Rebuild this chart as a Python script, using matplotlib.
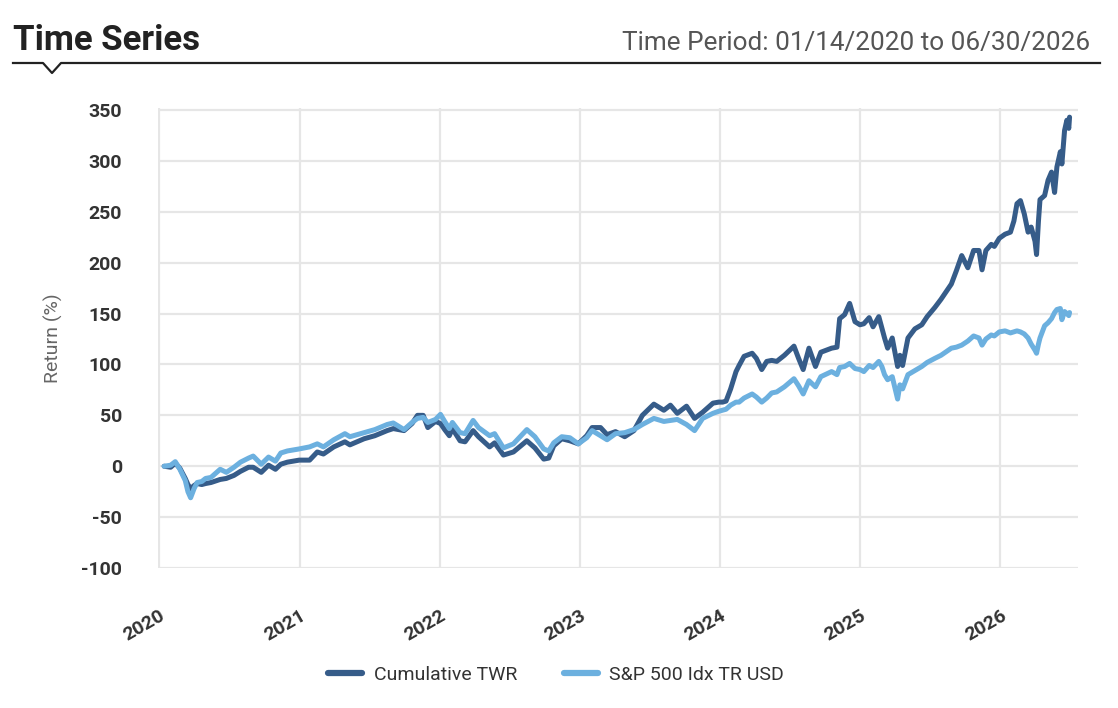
import matplotlib
matplotlib.use("Agg")
import matplotlib.pyplot as plt
import matplotlib.dates as mdates
from matplotlib.lines import Line2D
import pandas as pd

# values (percent return since 01/14/2020)
dates = [
    "2020-01-14", "2020-01-31", "2020-02-12", "2020-02-24", "2020-03-09", "2020-03-16",
    "2020-03-23", "2020-04-01", "2020-04-09", "2020-04-21", "2020-05-01", "2020-05-15",
    "2020-06-08", "2020-06-24", "2020-07-14", "2020-07-31", "2020-08-21", "2020-09-02",
    "2020-09-23", "2020-10-12", "2020-10-30", "2020-11-13", "2020-11-30", "2020-12-15",
    "2020-12-31",
    "2021-01-27", "2021-02-16", "2021-03-04", "2021-03-31", "2021-04-29", "2021-05-12",
    "2021-06-18", "2021-07-16", "2021-08-17", "2021-09-02", "2021-09-30", "2021-10-21",
    "2021-11-04", "2021-11-19", "2021-12-01", "2021-12-21",
    "2022-01-03", "2022-01-14", "2022-01-26", "2022-02-03", "2022-02-23", "2022-03-08",
    "2022-03-29", "2022-04-12", "2022-05-11", "2022-05-24", "2022-06-16", "2022-07-12",
    "2022-08-16", "2022-09-06", "2022-09-29", "2022-10-12", "2022-10-25", "2022-11-15",
    "2022-12-06", "2022-12-28",
    "2023-01-19", "2023-02-02", "2023-02-24", "2023-03-13", "2023-04-04", "2023-04-28",
    "2023-05-22", "2023-06-13", "2023-07-13", "2023-08-08", "2023-08-25", "2023-09-12",
    "2023-10-06", "2023-10-27", "2023-11-17", "2023-12-14", "2023-12-29",
    "2024-01-08", "2024-01-17", "2024-01-29", "2024-02-12", "2024-02-20", "2024-03-04",
    "2024-03-25", "2024-04-05", "2024-04-19", "2024-05-02", "2024-05-15", "2024-05-28",
    "2024-06-17", "2024-07-12", "2024-07-24", "2024-08-05", "2024-08-20", "2024-09-06",
    "2024-09-20", "2024-10-18", "2024-11-01", "2024-11-08", "2024-11-21", "2024-12-04",
    "2024-12-18", "2024-12-31",
    "2025-01-10", "2025-01-24", "2025-02-03", "2025-02-18", "2025-02-26", "2025-03-05",
    "2025-03-13", "2025-03-25", "2025-04-08", "2025-04-14", "2025-04-21", "2025-05-05",
    "2025-05-23", "2025-06-10", "2025-06-24", "2025-07-14", "2025-07-30", "2025-08-26",
    "2025-09-08", "2025-09-22", "2025-10-08", "2025-10-23", "2025-11-06", "2025-11-14",
    "2025-11-24", "2025-12-08", "2025-12-16", "2025-12-29",
    "2026-01-13", "2026-01-27", "2026-02-05", "2026-02-13", "2026-02-22", "2026-03-04",
    "2026-03-14", "2026-03-22", "2026-04-01", "2026-04-05", "2026-04-10", "2026-04-14",
    "2026-04-26", "2026-05-05", "2026-05-14", "2026-05-22", "2026-05-28", "2026-06-06",
    "2026-06-10", "2026-06-17", "2026-06-23", "2026-06-28", "2026-06-30",
]

cumulative_twr = [
    0, -1, 3, -2, -12, -18, -22, -19, -17, -18, -17, -16,
    -13, -12, -9, -5, -1, -1, -6, 1, -3, 2, 4, 5,
    6,
    6, 14, 12, 19, 24, 21, 27, 30, 35, 37, 35, 42,
    50, 50, 38, 44,
    42, 36, 30, 37, 25, 24, 35, 29, 19, 23, 11, 14,
    25, 18, 7, 8, 20, 27, 25, 22,
    30, 38, 38, 31, 34, 29, 35, 50, 61, 55, 60, 52,
    59, 47, 53, 62, 63,
    63, 64, 76, 93, 99, 108, 111, 106, 95, 103, 104, 103,
    109, 118, 106, 95, 116, 98, 112, 116, 117, 145, 149, 160,
    142, 139,
    140, 146, 137, 147, 136, 126, 116, 126, 98, 109, 99, 126,
    135, 139, 147, 156, 164, 179, 192, 207, 195, 212, 212, 193,
    212, 218, 216, 224,
    228, 230, 241, 258, 261, 248, 230, 235, 221, 208, 241, 262,
    266, 281, 289, 269, 294, 309, 297, 330, 340, 332, 343,
]

sp500_tr = [
    0, 1, 4.5, -3, -14, -25, -31, -22, -16, -15, -12, -11,
    -3, -6, -1, 4, 8, 10, 2, 9, 5, 13, 15, 16,
    17,
    19, 22, 19, 26, 32, 29, 33, 36, 41, 42.5, 36, 43,
    47, 48, 43, 46,
    51, 44, 37, 43, 33, 32, 45, 38, 30, 32, 18, 22,
    36, 29, 17, 15, 23, 29, 28, 22,
    28, 35, 30, 26, 32, 33, 36, 41, 47, 44, 45, 46,
    41, 35, 47, 52, 54,
    55, 56, 60, 63, 63, 67, 71, 68, 63, 67, 72, 73,
    78, 86, 79, 71, 84, 78, 88, 93, 90, 97, 98, 101,
    96, 95,
    93, 99, 97, 103, 98, 90, 85, 88, 66, 80, 76, 90,
    94, 98, 102, 106, 109, 116, 117, 119, 123, 128, 126, 119,
    125, 129, 128, 132,
    133, 131, 132, 133, 132, 130, 126, 120, 114, 111, 120, 126,
    138, 141, 145, 151, 154, 155, 144, 152, 150, 148, 151,
]

series_names = ["Cumulative TWR", "S&P 500 Idx TR USD"]
series_colors = ["#365c89", "#6cb0df"]

W, H = 1118, 708
plt.rcParams["font.family"] = ["Roboto", "DejaVu Sans"]
plt.rcParams["axes.unicode_minus"] = False

fig = plt.figure(figsize=(W / 100, H / 100), dpi=100)
ax = fig.add_axes([158 / W, 1 - 568 / H, 920 / W, 460 / H])

x = pd.to_datetime(dates)
for vals, name, col in zip([cumulative_twr, sp500_tr], series_names, series_colors):
    ax.plot(x, vals, color=col, lw=3.6, label=name, solid_joinstyle="round",
            solid_capstyle="round")

ax.set_ylim(-100, 352)
ax.set_yticks(range(-100, 351, 50))
ax.set_xlim(pd.Timestamp("2019-12-29"), pd.Timestamp("2026-07-22"))
ax.xaxis.set_major_locator(mdates.YearLocator())
ax.xaxis.set_major_formatter(mdates.DateFormatter("%Y"))

ax.grid(True, color="#e6e6e6", lw=1.6)
ax.set_axisbelow(True)
for s in ax.spines.values():
    s.set_visible(False)
ax.tick_params(length=0)
ax.tick_params(axis="y", pad=26, labelsize=14, labelcolor="#333333")
ax.tick_params(axis="x", pad=28, labelsize=14, labelcolor="#333333")
for lab in ax.get_yticklabels():
    lab.set_fontweight("bold")
for lab in ax.get_xticklabels():
    lab.set_fontweight("bold")
    lab.set_rotation(30)
    lab.set_ha("right")
    lab.set_rotation_mode("anchor")

ax.set_ylabel("Return (%)", fontsize=14, color="#666666")
ax.yaxis.set_label_coords((63 - 158) / 920, 0.5)

# header
fig.text(13 / W, 1 - 50 / H, "Time Series", fontsize=25, fontweight="bold",
         color="#222222", va="baseline", ha="left")
fig.text(1090 / W, 1 - 50 / H, "Time Period: 01/14/2020 to 06/30/2026", fontsize=18.8,
         color="#555555", va="baseline", ha="right")
hx = [13, 43, 52, 61, 1100]
hy = [63, 63, 73, 63, 63]
fig.add_artist(Line2D([v / W for v in hx], [1 - v / H for v in hy],
                      color="#222222", lw=1.6, transform=fig.transFigure))

leg = fig.legend(loc="center", bbox_to_anchor=(556 / W, 1 - 675 / H), ncol=2,
                 frameon=False, fontsize=14, handlelength=1.75, columnspacing=2.4,
                 handletextpad=0.6)
for h in leg.get_lines():
    h.set_linewidth(4.5)
for t in leg.get_texts():
    t.set_color("#333333")

fig.savefig("out.png", dpi=100)
